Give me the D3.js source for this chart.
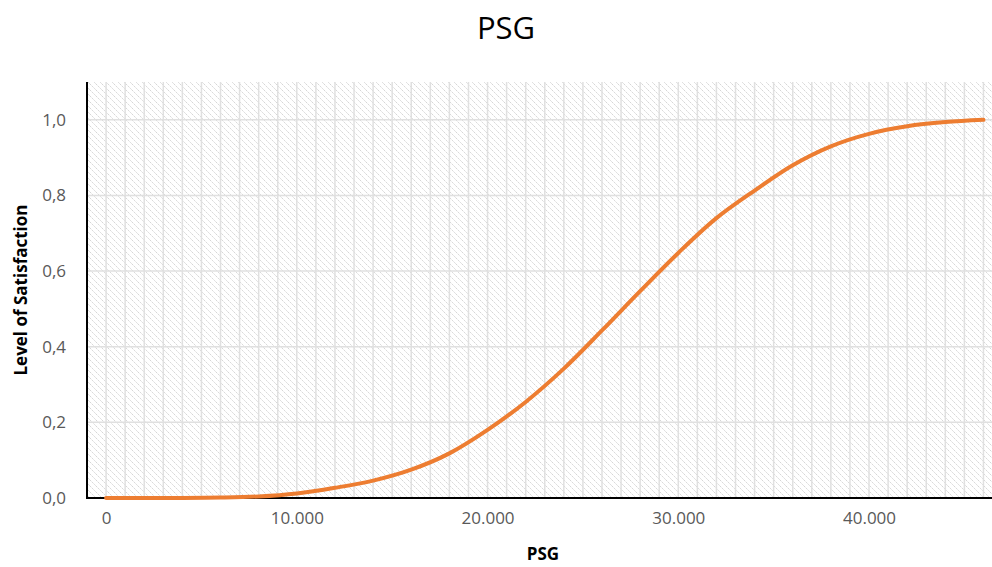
<!DOCTYPE html>
<html>
<head>
<meta charset="utf-8">
<script src="https://cdn.jsdelivr.net/npm/d3@7"></script>
<style>
  body { margin: 0; background: #fff; }
  svg { display: block; font-family: "Open Sans", sans-serif; }
</style>
</head>
<body>
<svg class="main-svg" width="992" height="567"></svg>
<script>
// PSG values (every 2.000) and level of satisfaction
var psg = [0, 2000, 4000, 6000, 8000, 10000, 12000, 14000, 16000, 18000, 20000, 22000,
           24000, 26000, 28000, 30000, 32000, 34000, 36000, 38000, 40000, 42000, 44000, 46000];
var satisfaction = [0, 0, 0, 0.001, 0.004, 0.012, 0.027, 0.046, 0.075, 0.118, 0.18, 0.254,
                    0.342, 0.443, 0.547, 0.648, 0.74, 0.813, 0.88, 0.93, 0.963, 0.983, 0.994, 1.0];
var xTicks = [0, 10000, 20000, 30000, 40000];
var yTicks = [0, 0.2, 0.4, 0.6, 0.8, 1.0];

var d3 = window.d3;
var svg = d3.select('.main-svg');

var plotLeft = 87, plotRight = 993, plotTop = 82, plotBottom = 498;

var x = d3.scaleLinear().domain([-1000, 46500]).range([plotLeft, plotRight]);
var y = d3.scaleLinear().domain([0, 1.1]).range([plotBottom, plotTop]);

// hatch pattern for the plot area
var defs = svg.append('defs');
var pat = defs.append('pattern')
  .attr('id', 'hatch')
  .attr('patternUnits', 'userSpaceOnUse')
  .attr('width', 6)
  .attr('height', 6);
pat.append('path')
  .attr('d', 'M0,0 L6,6 M-1,5 L1,7 M5,-1 L7,1')
  .attr('stroke', '#d6d6d6')
  .attr('stroke-width', 1)
  .attr('stroke-dasharray', '2,1');

svg.append('rect')
  .attr('x', plotLeft).attr('y', plotTop)
  .attr('width', plotRight - plotLeft).attr('height', plotBottom - plotTop)
  .attr('fill', 'url(#hatch)');

// gridlines
svg.append('g')
  .selectAll('line')
  .data(d3.range(0, 46001, 1000))
  .enter().append('line')
  .attr('x1', d => x(d)).attr('x2', d => x(d))
  .attr('y1', plotTop).attr('y2', plotBottom)
  .attr('stroke', '#e0e0e0').attr('stroke-width', 1.5);

svg.append('g')
  .selectAll('line')
  .data(yTicks.slice(1))
  .enter().append('line')
  .attr('x1', plotLeft).attr('x2', plotRight)
  .attr('y1', d => y(d)).attr('y2', d => y(d))
  .attr('stroke', '#e0e0e0').attr('stroke-width', 1.5);

// axes
var fmtX = d3.format(',');
var xAxis = svg.append('g')
  .attr('transform', 'translate(0,' + plotBottom + ')')
  .call(d3.axisBottom(x).tickValues(xTicks).tickSize(0).tickPadding(14)
        .tickFormat(d => fmtX(d).replace(/,/g, '.')));
xAxis.select('.domain').remove();
xAxis.selectAll('text').attr('fill', '#595959').style('font-size', '17px')
  .attr('font-family', '"Open Sans", sans-serif');

var yAxis = svg.append('g')
  .attr('transform', 'translate(' + (plotLeft - 21) + ',0)')
  .call(d3.axisLeft(y).tickValues(yTicks).tickSize(0).tickPadding(0)
        .tickFormat(d => d3.format('.1f')(d).replace('.', ',')));
yAxis.select('.domain').remove();
yAxis.selectAll('text').attr('fill', '#595959').style('font-size', '17px')
  .attr('font-family', '"Open Sans", sans-serif');

svg.append('line')
  .attr('x1', plotLeft).attr('x2', plotLeft).attr('y1', plotTop).attr('y2', plotBottom + 1)
  .attr('stroke', '#000').attr('stroke-width', 2);
svg.append('line')
  .attr('x1', plotLeft - 1).attr('x2', plotRight).attr('y1', plotBottom).attr('y2', plotBottom)
  .attr('stroke', '#000').attr('stroke-width', 2);

// curve
var line = d3.line()
  .x((d, i) => x(psg[i]))
  .y(d => y(d))
  .curve(d3.curveCatmullRom.alpha(0.5));

svg.append('path')
  .datum(satisfaction)
  .attr('d', line)
  .attr('fill', 'none')
  .attr('stroke', '#ED7D31')
  .attr('stroke-width', 4)
  .attr('stroke-linecap', 'round');

// titles
svg.append('text')
  .attr('x', 506).attr('y', 39)
  .attr('text-anchor', 'middle')
  .style('font-size', '31px')
  .attr('fill', '#000')
  .text('PSG');

svg.append('text')
  .attr('x', 543).attr('y', 560)
  .attr('text-anchor', 'middle')
  .style('font-size', '17px')
  .style('font-weight', 'bold')
  .attr('fill', '#000')
  .text('PSG');

svg.append('text')
  .attr('transform', 'translate(27,290) rotate(-90)')
  .attr('text-anchor', 'middle')
  .style('font-size', '17px')
  .style('font-weight', 'bold')
  .attr('fill', '#000')
  .text('Level of Satisfaction');
</script>
</body>
</html>
